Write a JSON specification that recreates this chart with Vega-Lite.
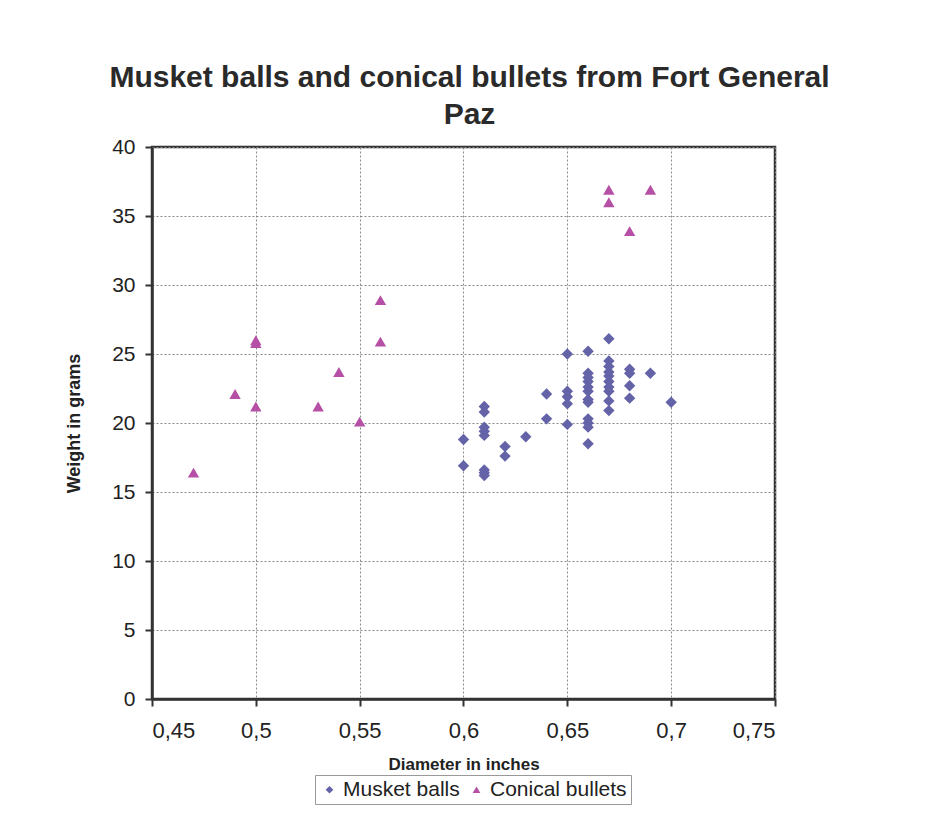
{
  "$schema": "https://vega.github.io/schema/vega-lite/v6.json",
  "width": 623,
  "height": 552,
  "autosize": {"type": "none"},
  "padding": {"left": 152, "top": 147, "right": 156, "bottom": 127},
  "background": "white",
  "title": {
    "text": ["Musket balls and conical bullets from Fort General", "Paz"],
    "font": "Liberation Sans",
    "fontSize": 30,
    "fontWeight": "bold",
    "color": "#2a2a2a",
    "lineHeight": 37,
    "anchor": "middle",
    "dx": 6,
    "offset": 6
  },
  "data": {
    "values": [
      {"d": 0.60, "w": 18.8, "type": "Musket balls"},
      {"d": 0.60, "w": 16.9, "type": "Musket balls"},
      {"d": 0.61, "w": 21.2, "type": "Musket balls"},
      {"d": 0.61, "w": 20.8, "type": "Musket balls"},
      {"d": 0.61, "w": 19.7, "type": "Musket balls"},
      {"d": 0.61, "w": 19.4, "type": "Musket balls"},
      {"d": 0.61, "w": 19.1, "type": "Musket balls"},
      {"d": 0.61, "w": 16.6, "type": "Musket balls"},
      {"d": 0.61, "w": 16.4, "type": "Musket balls"},
      {"d": 0.61, "w": 16.2, "type": "Musket balls"},
      {"d": 0.62, "w": 18.3, "type": "Musket balls"},
      {"d": 0.62, "w": 17.6, "type": "Musket balls"},
      {"d": 0.63, "w": 19.0, "type": "Musket balls"},
      {"d": 0.64, "w": 22.1, "type": "Musket balls"},
      {"d": 0.64, "w": 20.3, "type": "Musket balls"},
      {"d": 0.65, "w": 25.0, "type": "Musket balls"},
      {"d": 0.65, "w": 22.3, "type": "Musket balls"},
      {"d": 0.65, "w": 21.9, "type": "Musket balls"},
      {"d": 0.65, "w": 21.4, "type": "Musket balls"},
      {"d": 0.65, "w": 19.9, "type": "Musket balls"},
      {"d": 0.66, "w": 25.2, "type": "Musket balls"},
      {"d": 0.66, "w": 23.6, "type": "Musket balls"},
      {"d": 0.66, "w": 23.3, "type": "Musket balls"},
      {"d": 0.66, "w": 23.0, "type": "Musket balls"},
      {"d": 0.66, "w": 22.6, "type": "Musket balls"},
      {"d": 0.66, "w": 22.3, "type": "Musket balls"},
      {"d": 0.66, "w": 21.7, "type": "Musket balls"},
      {"d": 0.66, "w": 21.5, "type": "Musket balls"},
      {"d": 0.66, "w": 20.3, "type": "Musket balls"},
      {"d": 0.66, "w": 20.0, "type": "Musket balls"},
      {"d": 0.66, "w": 19.7, "type": "Musket balls"},
      {"d": 0.66, "w": 18.5, "type": "Musket balls"},
      {"d": 0.67, "w": 26.1, "type": "Musket balls"},
      {"d": 0.67, "w": 24.5, "type": "Musket balls"},
      {"d": 0.67, "w": 24.1, "type": "Musket balls"},
      {"d": 0.67, "w": 23.7, "type": "Musket balls"},
      {"d": 0.67, "w": 23.4, "type": "Musket balls"},
      {"d": 0.67, "w": 23.0, "type": "Musket balls"},
      {"d": 0.67, "w": 22.6, "type": "Musket balls"},
      {"d": 0.67, "w": 22.3, "type": "Musket balls"},
      {"d": 0.67, "w": 21.6, "type": "Musket balls"},
      {"d": 0.67, "w": 20.9, "type": "Musket balls"},
      {"d": 0.68, "w": 23.9, "type": "Musket balls"},
      {"d": 0.68, "w": 23.6, "type": "Musket balls"},
      {"d": 0.68, "w": 22.7, "type": "Musket balls"},
      {"d": 0.68, "w": 21.8, "type": "Musket balls"},
      {"d": 0.69, "w": 23.6, "type": "Musket balls"},
      {"d": 0.70, "w": 21.5, "type": "Musket balls"},
      {"d": 0.47, "w": 16.4, "type": "Conical bullets"},
      {"d": 0.49, "w": 22.1, "type": "Conical bullets"},
      {"d": 0.50, "w": 26.0, "type": "Conical bullets"},
      {"d": 0.50, "w": 25.8, "type": "Conical bullets"},
      {"d": 0.50, "w": 21.2, "type": "Conical bullets"},
      {"d": 0.53, "w": 21.2, "type": "Conical bullets"},
      {"d": 0.54, "w": 23.7, "type": "Conical bullets"},
      {"d": 0.55, "w": 20.1, "type": "Conical bullets"},
      {"d": 0.56, "w": 28.9, "type": "Conical bullets"},
      {"d": 0.56, "w": 25.9, "type": "Conical bullets"},
      {"d": 0.67, "w": 36.9, "type": "Conical bullets"},
      {"d": 0.67, "w": 36.0, "type": "Conical bullets"},
      {"d": 0.68, "w": 33.9, "type": "Conical bullets"},
      {"d": 0.69, "w": 36.9, "type": "Conical bullets"}
    ]
  },
  "mark": {"type": "point", "filled": true, "opacity": 1},
  "encoding": {
    "x": {
      "field": "d",
      "type": "quantitative",
      "title": "Diameter in inches",
      "scale": {"domain": [0.45, 0.75], "zero": false, "nice": false},
      "axis": {
        "values": [0.45, 0.5, 0.55, 0.6, 0.65, 0.7, 0.75],
        "labelExpr": "replace(format(datum.value, '.2~f'), '.', ',')",
        "labelFontSize": 22,
        "tickSize": 7,
        "labelPadding": 14,
        "titleFontSize": 17,
        "titlePadding": 15
      }
    },
    "y": {
      "field": "w",
      "type": "quantitative",
      "title": "Weight in grams",
      "scale": {"domain": [0, 40], "nice": false},
      "axis": {
        "values": [0, 5, 10, 15, 20, 25, 30, 35, 40],
        "labelFontSize": 21,
        "tickSize": 7,
        "labelPadding": 10,
        "titleFontSize": 18,
        "titlePadding": 28
      }
    },
    "color": {
      "field": "type",
      "type": "nominal",
      "scale": {"domain": ["Musket balls", "Conical bullets"], "range": ["#6463a8", "#b550a6"]},
      "legend": {
        "title": null,
        "orient": "none",
        "direction": "horizontal",
        "legendX": 163,
        "legendY": 628,
        "padding": 4,
        "strokeColor": "#999999",
        "labelFont": "Liberation Sans",
        "labelFontSize": 21,
        "labelColor": "#222222",
        "symbolSize": 60,
        "columnPadding": 6,
        "labelOffset": 3
      }
    },
    "shape": {
      "field": "type",
      "type": "nominal",
      "scale": {"domain": ["Musket balls", "Conical bullets"], "range": ["diamond", "triangle-up"]},
      "legend": null
    },
    "size": {"value": 130}
  },
  "config": {
    "view": {"stroke": "#333333", "strokeWidth": 2.5},
    "axis": {
      "labelFont": "Liberation Sans",
      "labelColor": "#222222",
      "titleFont": "Liberation Sans",
      "titleFontWeight": "bold",
      "titleColor": "#222222",
      "domainColor": "#333333",
      "domainWidth": 2.5,
      "tickColor": "#333333",
      "tickWidth": 2,
      "gridColor": "#888888",
      "gridDash": [2, 2],
      "gridWidth": 1
    }
  }
}
